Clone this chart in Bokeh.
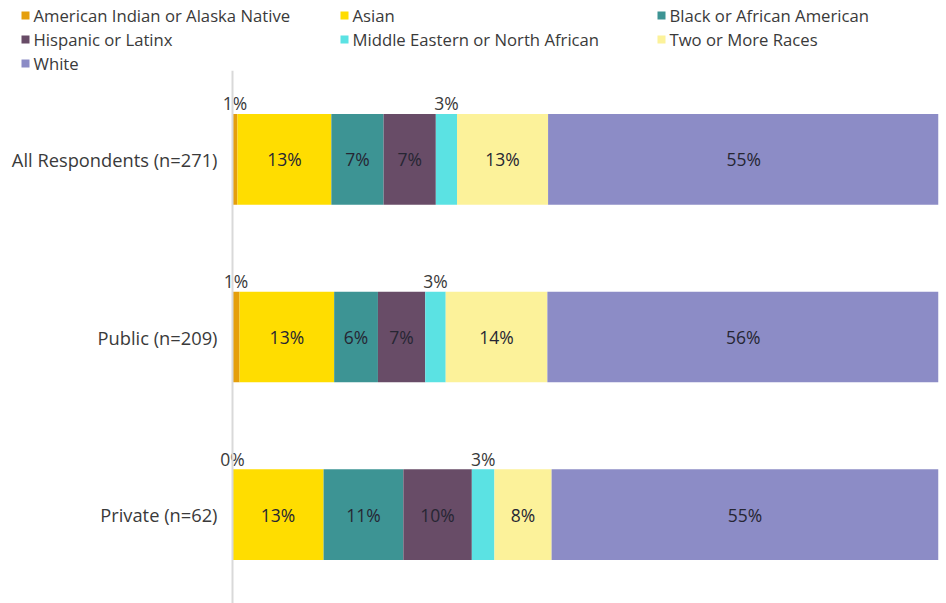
from bokeh.plotting import figure
from bokeh.layouts import column
from bokeh.models import ColumnDataSource, FactorRange, Range1d, Span
from bokeh.core.properties import value
from bokeh.embed import file_html
from bokeh.resources import INLINE

# ---------------- data ----------------
groups = ["All Respondents (n=271)", "Public (n=209)", "Private (n=62)"]
races = ["American Indian or Alaska Native", "Asian", "Black or African American",
         "Hispanic or Latinx", "Middle Eastern or North African", "Two or More Races", "White"]
amer_indian = [0.7, 1.0, 0.0]
asian = [13.3, 13.4, 12.9]
black = [7.4, 6.2, 11.3]
hispanic = [7.4, 6.7, 9.7]
mena = [3.0, 2.9, 3.2]
two_more = [12.9, 14.4, 8.1]
white = [55.4, 55.5, 54.8]
series = [amer_indian, asian, black, hispanic, mena, two_more, white]
colors = ["#E59F0C", "#FFDD00", "#3D9494", "#684C67", "#5BE2E3", "#FCF29A", "#8C8CC6"]

FONT = "Open Sans"
FS_LEG = "16.7px"
FS_CAT = "18.3px"
FS_LAB = "17.5px"
TXT = "#3a3a3a"

W, H_LEG, H_MAIN = 946, 70, 533
FR = 8                   # right border (px)
fw = W - FR              # frame width (frame starts at x=0)
AXIS_PX = 232            # screen x of the zero line
CAT_PX = 217             # screen x where the category labels end
x0 = 100 * AXIS_PX / (fw - AXIS_PX)


def px_to_x(px):
    return -x0 + px * (100 + x0) / fw


# ---------------- legend figure ----------------
leg = figure(width=W, height=H_LEG, x_range=Range1d(0, fw), y_range=Range1d(H_LEG, 0),
             output_backend="svg", toolbar_location=None,
             min_border_left=0, min_border_right=FR, min_border_top=0, min_border_bottom=0)
leg.axis.visible = False
leg.grid.visible = False
leg.outline_line_color = None
col_x = [25, 344, 661]
row_y = [15, 39, 63]
lx, ly, lc, lt = [], [], [], []
for i, r in enumerate(races):
    lx.append(col_x[i % 3])
    ly.append(row_y[i // 3])
    lc.append(colors[i])
    lt.append(r)
lsrc = ColumnDataSource(dict(x=lx, y=ly, tx=[v + 8 for v in lx], c=lc, t=lt))
leg.scatter(x="x", y="y", source=lsrc, marker="square", size=8, fill_color="c",
            line_color=None)
leg.text(x="tx", y="y", text="t", source=lsrc, text_font=value(FONT), text_font_size=FS_LEG,
         text_color=TXT, text_baseline="middle", text_align="left")

# ---------------- main figure ----------------
p = figure(width=W, height=H_MAIN, y_range=FactorRange(*reversed(groups)),
           x_range=Range1d(-x0, 100), output_backend="svg", toolbar_location=None,
           min_border_left=0, min_border_right=FR, min_border_top=0, min_border_bottom=0)
p.axis.visible = False
p.grid.visible = False
p.outline_line_color = None
p.add_layout(Span(location=0, dimension="height", line_color="#D9D9D9", line_width=2))

# category labels (y-axis labels)
csrc = ColumnDataSource(dict(y=groups, x=[px_to_x(CAT_PX)] * len(groups), t=groups))
p.text(x="x", y="y", text="t", source=csrc, text_font=value(FONT), text_font_size=FS_CAT,
       text_color=TXT, text_align="right", text_baseline="middle")

left = [0.0] * len(groups)
for k, vals in enumerate(series):
    right = [l + v for l, v in zip(left, vals)]
    src = ColumnDataSource(dict(y=groups, left=left, right=right,
                                mid=[(l + r) / 2 for l, r in zip(left, right)],
                                lab=[f"{round(v)}%" for v in vals], v=vals))
    p.hbar(y="y", left="left", right="right", height=0.51, source=src,
           fill_color=colors[k], line_color=None)
    inside = [i for i, v in enumerate(vals) if v >= 5]
    outside = [i for i, v in enumerate(vals) if v < 5]
    if inside:
        s_in = ColumnDataSource(dict(y=[groups[i] for i in inside],
                                     x=[src.data["mid"][i] for i in inside],
                                     t=[src.data["lab"][i] for i in inside]))
        p.text(x="x", y="y", text="t", source=s_in, text_font=value(FONT),
               text_font_size=FS_LAB, text_color="#262633", text_align="center",
               text_baseline="middle")
    if outside:
        s_out = ColumnDataSource(dict(y=[groups[i] for i in outside],
                                      x=[src.data["mid"][i] for i in outside],
                                      t=[src.data["lab"][i] for i in outside]))
        p.text(x="x", y="y", text="t", source=s_out, text_font=value(FONT),
               text_font_size=FS_LAB, text_color=TXT, text_align="center",
               text_baseline="bottom", y_offset=-44)
    left = right

layout = column(leg, p, spacing=0)
open("out.html", "w").write(file_html(layout, INLINE))
